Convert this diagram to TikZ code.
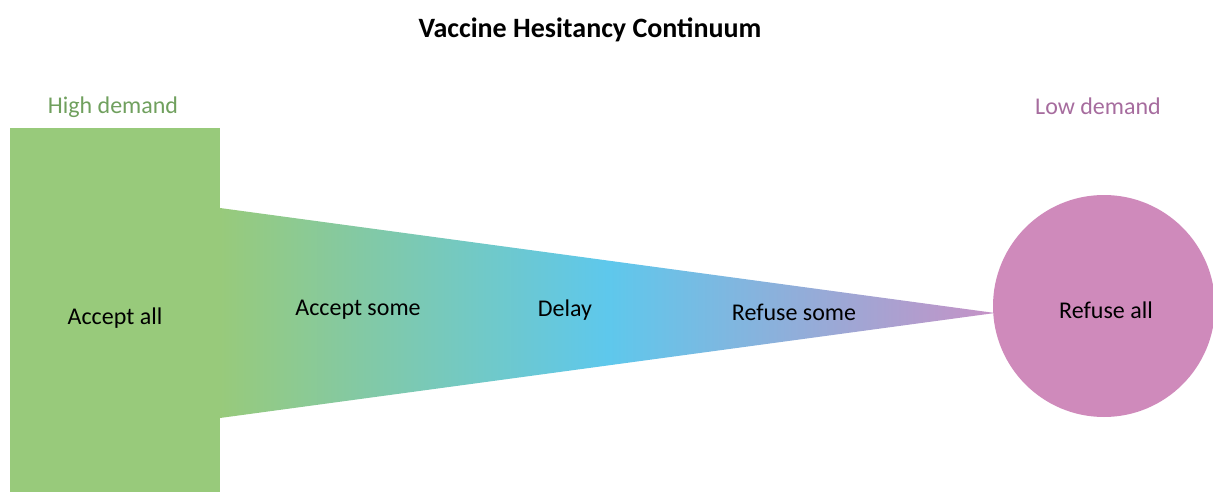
\documentclass[tikz,border=0pt]{standalone}
\usepackage{fontspec}
\setmainfont{Carlito}
\usetikzlibrary{positioning,shapes,calc}

\definecolor{hgreen}{RGB}{152,202,123}
\definecolor{hcyan}{RGB}{94,200,236}
\definecolor{hpurple}{RGB}{198,146,198}
\definecolor{hpink}{RGB}{207,138,187}
\definecolor{hgreentxt}{RGB}{112,160,94}
\definecolor{hpinktxt}{RGB}{166,108,158}

\begin{document}
\begin{tikzpicture}
  [
  x=1pt, y=-1pt,
  font=\fontsize{24}{28}\selectfont,
  block/.style={rectangle, minimum width=210pt, minimum height=364pt, fill=hgreen, draw=none, inner sep=0pt},
  ball/.style={circle, minimum size=222pt, fill=hpink, draw=none, inner sep=0pt},
  label/.style={text=black, inner sep=0pt},
  side/.style={inner sep=0pt}
  ]

\useasboundingbox (0,0) rectangle (1213,492);

\node[font=\fontsize{28}{32}\selectfont\bfseries] (title) at (590,30) {Vaccine Hesitancy Continuum};

\node[block] (acceptall) at (115,310) {};
\node[ball] (refuseall) at (1104,306) {};

% funnel between the two
\coordinate (ftop) at (220,208);
\coordinate (fbot) at (220,418);
\coordinate (ftip) at (995,313);
\shade[left color=hgreen, right color=hpurple, middle color=hcyan]
  (ftop) -- (ftip) -- (fbot) -- cycle;

\node[side, text=hgreentxt] (high) at (113,107) {High demand};
\node[side, text=hpinktxt] (low) at (1098,106) {Low demand};

\node[label] at (115,318) {Accept all};
\node[label] (some) at (358,310) {Accept some};
\node[label] (delay) at (565,310) {Delay};
\node[label] (refsome) at (794,312) {Refuse some};
\node[label] at (1106,310) {Refuse all};

\end{tikzpicture}
\end{document}
